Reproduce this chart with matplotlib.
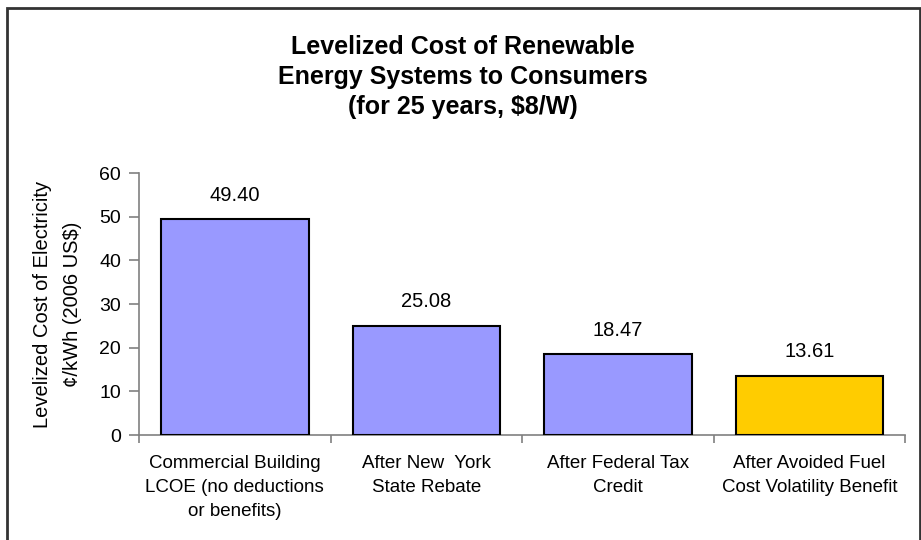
import numpy as np
import matplotlib.pyplot as plt
from matplotlib.patches import Rectangle

plt.rcParams['font.family'] = ['Liberation Sans', 'DejaVu Sans']

# Data
categories = ['Commercial Building\nLCOE (no deductions\nor benefits)',
              'After New  York\nState Rebate',
              'After Federal Tax\nCredit',
              'After Avoided Fuel\nCost Volatility Benefit']
values = [49.40, 25.08, 18.47, 13.61]
colors = ['#9999FF', '#9999FF', '#9999FF', '#FFCC00']

fig = plt.figure(figsize=(9.21, 5.4), dpi=100)
ax = fig.add_axes([0.151, 0.1944, 0.832, 0.4852])

x = np.arange(len(values))
ax.bar(x, values, width=0.77, color=colors, edgecolor='black', linewidth=1.5, zorder=3)
for xi, v in zip(x, values):
    ax.text(xi, v + 3.3, '%.2f' % v, ha='center', va='bottom', fontsize=14.5)

ax.set_xlim(-0.5, len(values) - 0.5)
ax.set_ylim(0, 60)
ax.set_yticks(np.arange(0, 61, 10))
ax.tick_params(axis='y', labelsize=14, direction='out', length=7, color='#808080', width=1.2, pad=6)

# category boundaries carry the x ticks, names sit between them
ax.set_xticks(np.arange(len(values) + 1) - 0.5)
ax.set_xticklabels([])
ax.tick_params(axis='x', direction='out', length=6, color='#808080', width=1.2)
for xi, lab in zip(x, categories):
    ax.text(xi, -4.6, lab, ha='center', va='top', fontsize=13.5, linespacing=1.52,
            transform=ax.transData)

for side in ['top', 'right']:
    ax.spines[side].set_visible(False)
for side in ['left', 'bottom']:
    ax.spines[side].set_color('#808080')
    ax.spines[side].set_linewidth(1.2)

ax.set_ylabel('Levelized Cost of Electricity\n\u00a2/kWh (2006 US$)', fontsize=14.5,
              labelpad=12, linespacing=1.75)

fig.text(0.503, 0.936, 'Levelized Cost of Renewable\nEnergy Systems to Consumers\n(for 25 years, $8/W)',
         ha='center', va='top', fontsize=18, fontweight='bold', linespacing=1.32)

# outer frame
fig.patches.append(Rectangle((7 / 921, -0.1), (920 - 7) / 921, 1.1 - 8 / 540,
                             transform=fig.transFigure, fill=False,
                             edgecolor='#333333', linewidth=2))

fig.savefig('out.png', dpi=100)
